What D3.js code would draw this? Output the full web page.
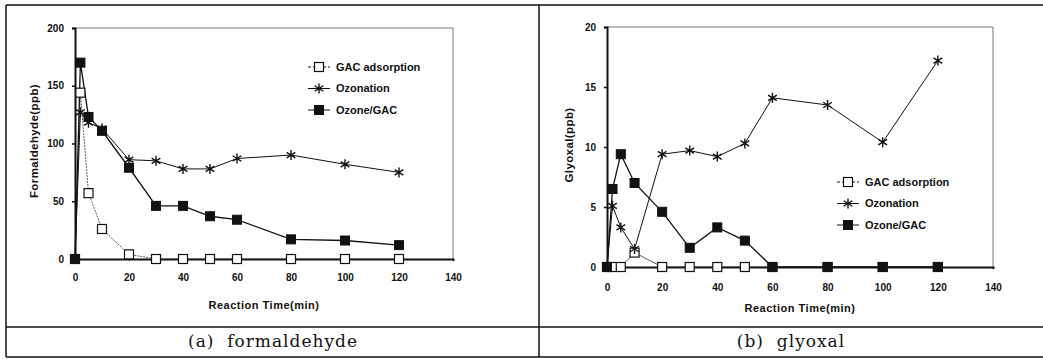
<!DOCTYPE html>
<html>
<head>
<meta charset="utf-8">
<script src="https://cdn.jsdelivr.net/npm/d3@7"></script>
<style>
  body { margin: 0; background: #fff; }
  svg { display: block; }
  .tick text { font-family: "Liberation Sans", Arial, sans-serif; font-weight: bold; font-size: 10px; fill: #111; }
</style>
</head>
<body>
<div id="fig"></div>
<script>
// data
let times = [0, 2, 5, 10, 20, 30, 40, 50, 60, 80, 100, 120]
let seriesNames = ['GAC adsorption', 'Ozonation', 'Ozone/GAC']

let formGAC = [0, 144, 57, 26, 4, 0, 0, 0, 0, 0, 0, 0]
let formOzone = [0, 127, 118, 113, 86, 85, 78, 78, 87, 90, 82, 75]
let formOzoneGAC = [0, 170, 123, 111, 79, 46, 46, 37, 34, 17, 16, 12]

let glyGAC = [0, 0, 0, 1.2, 0, 0, 0, 0, 0, 0, 0, 0]
let glyOzone = [0, 5.1, 3.3, 1.5, 9.4, 9.7, 9.2, 10.3, 14.1, 13.5, 10.4, 17.2]
let glyOzoneGAC = [0, 6.5, 9.4, 7.0, 4.6, 1.6, 3.3, 2.2, 0, 0, 0, 0]

let xTicks = [0, 20, 40, 60, 80, 100, 120, 140]
let formTicks = [0, 50, 100, 150, 200]
let glyTicks = [0, 5, 10, 15, 20]

const W = 1043, H = 359
const svg = d3.select('#fig').append('svg').attr('width', W).attr('height', H)

// table frame
const frame = svg.append('g').attr('stroke', '#111').attr('stroke-width', 1.5)
frame.append('line').attr('x1', 6).attr('x2', W).attr('y1', 5).attr('y2', 5)
frame.append('line').attr('x1', 6).attr('x2', W).attr('y1', 327).attr('y2', 327)
frame.append('line').attr('x1', 6).attr('x2', W).attr('y1', 357).attr('y2', 357)
frame.append('line').attr('x1', 6).attr('x2', 6).attr('y1', 5).attr('y2', 357)
frame.append('line').attr('x1', 539).attr('x2', 539).attr('y1', 5).attr('y2', 357)

const sans = '"Liberation Sans", Arial, sans-serif'

let starPath = r => {
    let d = `M0,${-r}L0,${r}`
    let a = r * 0.87, b = r * 0.55
    d += `M${-a},${-b}L${a},${b}M${-a},${b}L${a},${-b}`
    return d
}

let drawMarker = (g, type, x, y) => {
    if (type === 0) {
        g.append('rect').attr('x', x - 4.5).attr('y', y - 4.5).attr('width', 9).attr('height', 9)
            .attr('fill', '#fff').attr('stroke', '#111').attr('stroke-width', 1.2)
    } else if (type === 1) {
        g.append('path').attr('d', starPath(5)).attr('transform', `translate(${x},${y})`)
            .attr('fill', 'none').attr('stroke', '#111').attr('stroke-width', 1.4)
    } else {
        g.append('rect').attr('x', x - 4.5).attr('y', y - 4.5).attr('width', 9).attr('height', 9)
            .attr('fill', '#111').attr('stroke', '#111').attr('stroke-width', 1)
    }
}

let drawPanel = cfg => {
    const g = svg.append('g')
    const x = d3.scaleLinear().domain([0, 140]).range([cfg.x0, cfg.x1])
    const y = d3.scaleLinear().domain([0, cfg.yMax]).range([cfg.y0, cfg.y1])

    // plot frame (thin top/right)
    g.append('path')
        .attr('d', `M${x(0)},${y(cfg.yMax)}H${x(140)}V${y(0)}`)
        .attr('fill', 'none').attr('stroke', '#777').attr('stroke-width', 1)

    const yAxis = g.append('g')
        .attr('transform', `translate(${x(0)},0)`)
        .call(d3.axisLeft(y).tickValues(cfg.yTicks).tickSize(3).tickPadding(8).tickFormat(d3.format('d')))
    yAxis.select('.domain').attr('stroke', '#111').attr('stroke-width', 2)
    yAxis.selectAll('.tick line').attr('stroke', '#111').attr('stroke-width', 1.5)

    const xAxis = g.append('g')
        .attr('transform', `translate(0,${y(0)})`)
        .call(d3.axisBottom(x).tickValues(xTicks).tickSize(2).tickPadding(cfg.xPad))
    xAxis.select('.domain').attr('stroke', '#111').attr('stroke-width', 2)
    xAxis.selectAll('.tick line').attr('stroke', '#111')

    // axis titles
    g.append('text')
        .attr('x', (x(0) + x(140)) / 2).attr('y', cfg.xTitleY)
        .attr('text-anchor', 'middle')
        .attr('font-family', sans).attr('font-weight', 'bold').attr('font-size', 11)
        .attr('letter-spacing', 0.5)
        .attr('fill', '#111')
        .text('Reaction Time(min)')
    g.append('text')
        .attr('transform', `translate(${cfg.yTitleX},${cfg.yTitleY}) rotate(-90)`)
        .attr('text-anchor', 'middle').attr('dy', '0.35em')
        .attr('font-family', sans).attr('font-weight', 'bold').attr('font-size', 11.5)
        .attr('letter-spacing', 0.4)
        .attr('fill', '#111')
        .text(cfg.yTitle)

    // series lines then markers
    const line = d3.line().x((d, i) => x(times[i])).y(d => y(d))
    cfg.series.forEach((s, k) => {
        g.append('path')
            .attr('d', line(s))
            .attr('fill', 'none')
            .attr('stroke', k === 0 ? '#333' : '#111')
            .attr('stroke-width', k === 0 ? 0.8 : (k === 2 ? 1.3 : 1))
            .attr('stroke-dasharray', k === 0 && cfg.dottedGAC ? '2,1' : null)
    })
    cfg.series.forEach((s, k) => {
        const mg = g.append('g')
        s.forEach((v, i) => drawMarker(mg, k, x(times[i]), y(v)))
    })

    // legend
    const lg = g.append('g').attr('transform', `translate(${cfg.legX},${cfg.legY})`)
    seriesNames.forEach((name, k) => {
        const yy = k * 21.5
        lg.append('line').attr('x1', 0).attr('x2', 22).attr('y1', yy).attr('y2', yy)
            .attr('stroke', '#111').attr('stroke-width', 1)
            .attr('stroke-dasharray', k === 0 ? '3,2' : null)
        drawMarker(lg, k, 11, yy)
        lg.append('text').attr('x', 28).attr('y', yy).attr('dy', '0.36em')
            .attr('font-family', sans).attr('font-weight', 'bold').attr('font-size', 11)
            .attr('fill', '#111')
            .text(name)
    })

    // caption
    svg.append('text')
        .attr('x', cfg.capX).attr('y', 347)
        .attr('text-anchor', 'middle')
        .attr('font-family', '"DejaVu Serif", serif').attr('font-size', 17)
        .attr('letter-spacing', 1)
        .attr('fill', '#111')
        .attr('xml:space', 'preserve')
        .text(cfg.caption)
}

drawPanel({
    x0: 75, x1: 453, y0: 259, y1: 28, yMax: 200, yTicks: formTicks, xPad: 13,
    series: [formGAC, formOzone, formOzoneGAC], dottedGAC: true,
    yTitle: 'Formaldehyde(ppb)', yTitleX: 34, yTitleY: 141, xTitleY: 309,
    legX: 308, legY: 67, capX: 273, caption: '(a)  formaldehyde'
})

drawPanel({
    x0: 607, x1: 993, y0: 267, y1: 27, yMax: 20, yTicks: glyTicks, xPad: 15,
    series: [glyGAC, glyOzone, glyOzoneGAC], dottedGAC: false,
    yTitle: 'Glyoxal(ppb)', yTitleX: 569, yTitleY: 145, xTitleY: 312,
    legX: 837, legY: 182, capX: 791, caption: '(b)  glyoxal'
})
</script>
</body>
</html>
